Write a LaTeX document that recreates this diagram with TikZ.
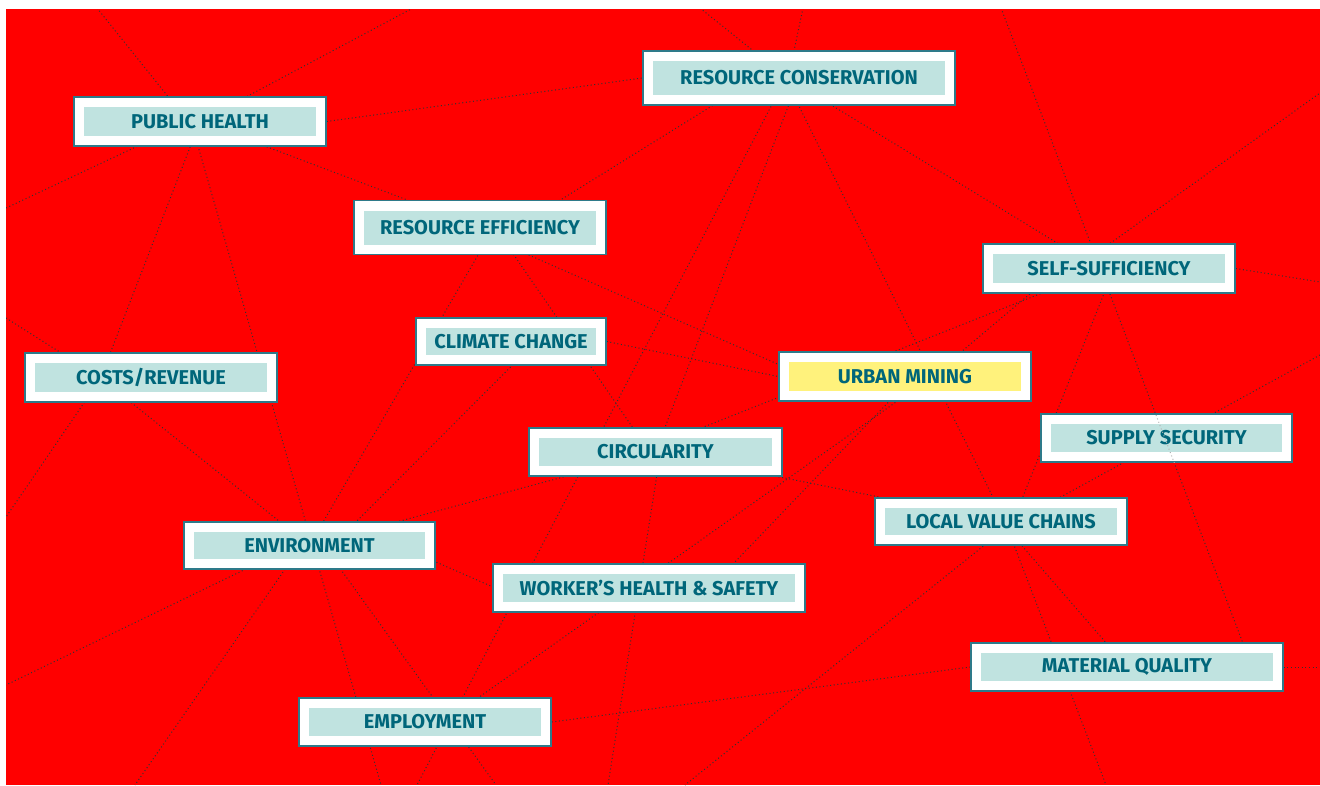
\documentclass[tikz,border=0pt]{standalone}
\usepackage{fontspec}
\setmainfont{Fira Sans}
\usetikzlibrary{calc}
\definecolor{bgred}{HTML}{FF0000}
\definecolor{boxedge}{HTML}{2E7A8A}
\definecolor{innerteal}{HTML}{C0E3E0}
\definecolor{inneryellow}{HTML}{FFF27C}
\definecolor{txtteal}{HTML}{00667A}
\pgfdeclarelayer{bg}
\pgfsetlayers{bg,main}
\tikzset{
  boxbase/.style={rectangle, fill=white, draw=boxedge, line width=1.5pt, inner sep=0pt,
    text=txtteal, font=\bfseries\fontsize{20}{22}\selectfont},
  tealbox/.style={boxbase, path picture={\fill[innerteal] ([shift={(10pt,10pt)}]path picture bounding box.south west) rectangle ([shift={(-10pt,-10pt)}]path picture bounding box.north east);}},
  yellowbox/.style={boxbase, path picture={\fill[inneryellow] ([shift={(10pt,10pt)}]path picture bounding box.south west) rectangle ([shift={(-10pt,-10pt)}]path picture bounding box.north east);}},
  link/.style={draw=black!80, line width=1pt, dash pattern=on 1pt off 2.6pt},
  linklight/.style={draw=black!30, line width=1pt, dash pattern=on 1pt off 2.6pt},
}
\begin{document}
\begin{tikzpicture}[x=1pt,y=-1pt]
\useasboundingbox (0,0) rectangle (1320,785);
% nodes
\node[tealbox, minimum width=252, minimum height=49] (ph) at (200,121.5) {PUBLIC HEALTH};
\node[tealbox, minimum width=312, minimum height=54] (rc) at (799,78) {RESOURCE CONSERVATION};
\node[tealbox, minimum width=252, minimum height=54] (re) at (480,227.5) {RESOURCE EFFICIENCY};
\node[tealbox, minimum width=252, minimum height=49] (ss) at (1109,268.5) {SELF-SUFFICIENCY};
\node[tealbox, minimum width=190, minimum height=47] (cc) at (511,341.5) {CLIMATE CHANGE};
\node[tealbox, minimum width=252, minimum height=49] (cr) at (151,377.5) {COSTS/REVENUE};
\node[yellowbox, minimum width=252, minimum height=49] (um) at (905,376.5) {URBAN MINING};
\node[tealbox, minimum width=251, minimum height=48] (sup) at (1166.5,438) {SUPPLY SECURITY};
\node[tealbox, minimum width=253, minimum height=48] (circ) at (655.5,452) {CIRCULARITY};
\node[tealbox, minimum width=252, minimum height=47] (lvc) at (1001,521.5) {LOCAL VALUE CHAINS};
\node[tealbox, minimum width=251, minimum height=47] (env) at (309.5,545.5) {ENVIRONMENT};
\node[tealbox, minimum width=312, minimum height=48] (whs) at (649,588) {WORKER’S HEALTH \& SAFETY};
\node[tealbox, minimum width=312, minimum height=48] (mq) at (1127,667) {MATERIAL QUALITY};
\node[tealbox, minimum width=252, minimum height=48] (emp) at (425,722) {EMPLOYMENT};
% free ends
\coordinate (t1) at (97,8);
\coordinate (t2) at (413,8);
\coordinate (t14) at (803,8);
\coordinate (t17) at (700,8);
\coordinate (t18) at (1001,8);
\coordinate (l4) at (6,208);
\coordinate (l5) at (6,517);
\coordinate (l9) at (6,318);
\coordinate (l24) at (6,685);
\coordinate (b6) at (381,785);
\coordinate (b14) at (417,785);
\coordinate (b16) at (1106,785);
\coordinate (b25) at (135,785);
\coordinate (b26) at (496,785);
\coordinate (b29) at (608,785);
\coordinate (b34) at (685,785);
\coordinate (r19) at (1320,93);
\coordinate (r20) at (1320,282);
\coordinate (r32) at (1320,355);
\coordinate (r36) at (1320,667);
\begin{pgfonlayer}{bg}
\fill[bgred] (6,9) rectangle (1320,785);
\begin{scope}
\clip (6,9) rectangle (1320,785);
\path[link] (t1) -- ($(ph)+(-12,0)$);
\path[link] (t2) -- (ph);
\path[link] (ph.east) -- (rc.west);
\path[link] (l4) -- ($(ph)+(-10,0)$);
\path[link] (ph) -- ($(cr)+(-51,2)$) -- (l5);
\path[link] ($(ph)+(-9,0)$) -- (b6);
\path[link] (ph) -- (re);
\path[link] ($(re)+(36,0)$) -- ($(rc)+(-42,0)$);
\path[link] (l9) -- ($(cr)+(-51,0)$) -- (env);
\path[link] ($(re)+(14,0)$) -- (env);
\path[link] ($(re)+(15,0)$) -- ($(circ)+(-6,0)$);
\path[link] ($(re)+(-14,0)$) -- ($(um)+(-99,0)$);
\path[link] (cc.east) -- (um.west);
\path[link] (t14) -- ($(rc)+(-9,-8)$) -- (b14);
\path[link] (rc) -- (circ);
\path[link] ($(rc)+(-14,0)$) -- ($(lvc)+(4,0)$) -- (b16);
\path[link] (t17) -- ($(rc)+(-12,0)$) -- ($(ss)+(-10,0)$);
\path[link] (t18) -- ($(mq)+(125,0)$);
\path[link] ($(ss)+(-34,0)$) -- (r19);
\path[link] (ss.east) -- (r20);
\path[link] ($(ss)+(-5,0)$) -- ($(circ)+(-15,0)$);
\path[link] ($(ss)+(-49,0)$) -- ($(um)+(27,0)$) -- ($(emp)+(19,0)$);
\path[link] ($(um)+(8,0)$) -- ($(whs)+(61,0)$);
\path[link] ($(cc)+(25,0)$) -- ($(env)+(23,0)$);
\path[link] ($(env)+(-15,0)$) -- (l24);
\path[link] ($(env)+(-8,0)$) -- (b25);
\path[link] ($(env)+(14,0)$) -- (b26);
\path[link] ($(env)+(110.5,9.5)$) -- ($(whs)+(-109,19.6)$);
\path[link] (env) -- (circ);
\path[link] ($(circ)+(5,0)$) -- (b29);
\path[link] (circ) -- (lvc);
\path[link] ($(ss)+(5,0)$) -- ($(lvc)+(12,0)$);
\path[link] ($(lvc)+(15,0)$) -- (r32);
\path[link] (lvc) -- (mq);
\path[link] ($(lvc)+(13,0)$) -- (b34);
\path[link] (emp.east) -- (mq.west);
\path[link] (mq.east) -- (r36);
\end{scope}
\end{pgfonlayer}
% line seen across SUPPLY SECURITY
\begin{scope}
\clip (sup.south west) rectangle (sup.north east);
\path[linklight] (t18) -- ($(mq)+(125,0)$);
\end{scope}
\end{tikzpicture}
\end{document}
